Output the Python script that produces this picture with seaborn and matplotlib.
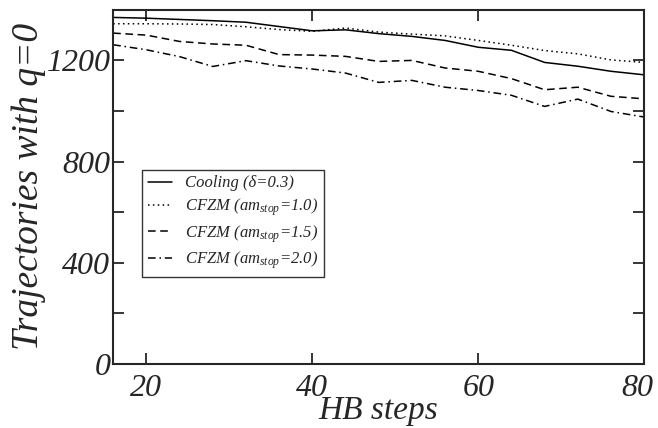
import matplotlib
matplotlib.use("Agg")
import matplotlib.pyplot as plt
from matplotlib.ticker import MultipleLocator, FuncFormatter
import seaborn as sns
import pandas as pd

# HB steps
steps = [16, 20, 24, 28, 32, 36, 40, 44, 48, 52, 56, 60, 64, 68, 72, 76, 80]

# trajectories with q=0
cooling = [1370, 1367, 1362, 1357, 1351, 1334, 1317, 1321, 1306, 1295, 1279, 1252, 1240, 1192, 1177, 1157, 1143]
cfzm_10 = [1345, 1345, 1344, 1342, 1333, 1322, 1315, 1328, 1312, 1304, 1297, 1279, 1260, 1239, 1226, 1202, 1192]
cfzm_15 = [1308, 1300, 1275, 1265, 1260, 1223, 1221, 1216, 1196, 1200, 1170, 1157, 1128, 1084, 1094, 1058, 1048]
cfzm_20 = [1262, 1242, 1215, 1176, 1199, 1178, 1166, 1150, 1113, 1121, 1094, 1081, 1062, 1018, 1047, 998, 976]

labels = ["Cooling (δ=0.3)",
          r"CFZM ($am_{stop}$=1.0)",
          r"CFZM ($am_{stop}$=1.5)",
          r"CFZM ($am_{stop}$=2.0)"]

df = pd.DataFrame({
    "step": steps * 4,
    "count": cooling + cfzm_10 + cfzm_15 + cfzm_20,
    "run": sum([[lab] * len(steps) for lab in labels], []),
})

sns.set_style("ticks")
plt.rcParams["font.family"] = ["Liberation Serif", "DejaVu Serif"]
plt.rcParams["font.style"] = "italic"
plt.rcParams["mathtext.fontset"] = "custom"
plt.rcParams["mathtext.it"] = "Liberation Serif:italic"
plt.rcParams["mathtext.rm"] = "Liberation Serif:italic"

fig = plt.figure(figsize=(6.58, 4.28), dpi=100)
ax = fig.add_axes([0.172, 0.150, 0.807, 0.827])

dashes = {labels[0]: "", labels[1]: (1, 2.2), labels[2]: (5, 3), labels[3]: (5, 2.5, 1, 2.5)}
sns.lineplot(data=df, x="step", y="count", hue="run", style="run",
             palette=["black"] * 4, dashes=dashes, linewidth=1.1, ax=ax)

ax.set_xlim(16, 80)
ax.set_ylim(0, 1400)
ax.xaxis.set_major_locator(MultipleLocator(20))
ax.yaxis.set_major_locator(MultipleLocator(400))
ax.yaxis.set_minor_locator(MultipleLocator(200))
# the last x label is drawn separately so it can sit a little left of its tick
ax.xaxis.set_major_formatter(FuncFormatter(lambda v, p: "" if v >= steps[-1] else f"{v:.0f}"))
ax.tick_params(which="both", direction="in", top=True, right=True,
               length=8, width=1.3, labelsize=23)
ax.tick_params(axis="x", pad=7)
ax.tick_params(axis="y", pad=2)
for s in ax.spines.values():
    s.set_linewidth(1.5)
    s.set_visible(True)

ax.annotate(f"{steps[-1]}", xy=(steps[-1], 0), xycoords=("data", "axes fraction"),
            xytext=(-5, -7), textcoords="offset points", ha="center", va="top",
            fontsize=23, annotation_clip=False)

ax.set_xlabel("HB steps", fontsize=24, labelpad=-5)
ax.set_ylabel("Trajectories with q=0", fontsize=27, labelpad=0)

leg = ax.legend(loc="lower left", bbox_to_anchor=(0.055, 0.245), fontsize=12,
                frameon=True, fancybox=False, edgecolor="black", borderaxespad=0,
                handlelength=1.4, handletextpad=0.8, borderpad=0.35, labelspacing=0.3)
leg.get_frame().set_linewidth(1.0)

fig.savefig("out.png", dpi=100)
